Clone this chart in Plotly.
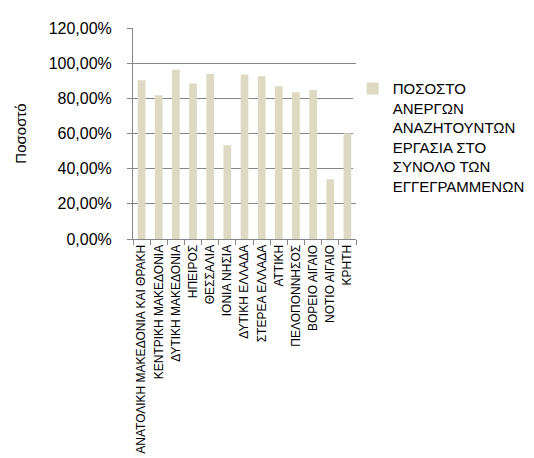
import plotly.graph_objects as go

# regions and share of registered unemployed who are seeking work
regions = [
    "ΑΝΑΤΟΛΙΚΗ ΜΑΚΕΔΟΝΙΑ ΚΑΙ ΘΡΑΚΗ",
    "ΚΕΝΤΡΙΚΗ ΜΑΚΕΔΟΝΙΑ",
    "ΔΥΤΙΚΗ ΜΑΚΕΔΟΝΙΑ",
    "ΗΠΕΙΡΟΣ",
    "ΘΕΣΣΑΛΙΑ",
    "ΙΟΝΙΑ ΝΗΣΙΑ",
    "ΔΥΤΙΚΗ ΕΛΛΑΔΑ",
    "ΣΤΕΡΕΑ ΕΛΛΑΔΑ",
    "ΑΤΤΙΚΗ",
    "ΠΕΛΟΠΟΝΝΗΣΟΣ",
    "ΒΟΡΕΙΟ ΑΙΓΑΙΟ",
    "ΝΟΤΙΟ ΑΙΓΑΙΟ",
    "ΚΡΗΤΗ",
]
share = [0.903, 0.817, 0.963, 0.884, 0.940, 0.533, 0.935, 0.925,
         0.869, 0.834, 0.847, 0.340, 0.602]
y_ticks = [0, 0.2, 0.4, 0.6, 0.8, 1.0, 1.2]
series_name = "ΠΟΣΟΣΤΟ<br>ΑΝΕΡΓΩΝ<br>ΑΝΑΖΗΤΟΥΝΤΩΝ<br>ΕΡΓΑΣΙΑ ΣΤΟ<br>ΣΥΝΟΛΟ ΤΩΝ<br>ΕΓΓΕΓΡΑΜΜΕΝΩΝ"

FONT = "Liberation Sans, Arial, sans-serif"
GREY = "#868686"

fig = go.Figure()
fig.add_trace(go.Bar(x=regions, y=share, name=series_name,
                     marker=dict(color="#ddd9c3", line=dict(width=0)),
                     showlegend=True))

fig.update_layout(
    width=534, height=458,
    margin=dict(l=124, r=171, t=20, b=223),
    paper_bgcolor="white", plot_bgcolor="white",
    separators=",.",
    bargap=0.55,
    font=dict(family=FONT, color="#000000"),
    legend=dict(x=0.985, y=0.79, xanchor="left", yanchor="top",
                font=dict(size=15), valign="top",
                itemwidth=30, tracegroupgap=0),
)
fig.update_xaxes(
    type="category", tickangle=-90, tickson="boundaries",
    ticks="outside", ticklen=5, tickcolor=GREY,
    showline=True, linecolor=GREY, showgrid=False,
    tickfont=dict(size=12),
)
fig.update_yaxes(
    range=[0, 1.2], tickvals=y_ticks, tickformat=".2%",
    showline=True, linecolor=GREY, showgrid=True, gridcolor=GREY,
    ticks="outside", ticklen=5, tickcolor=GREY, ticklabelstandoff=12,
    tickfont=dict(size=16),
    title=dict(text="Ποσοστό", font=dict(size=15), standoff=18),
    zeroline=False,
)

fig.write_html("out.html")
